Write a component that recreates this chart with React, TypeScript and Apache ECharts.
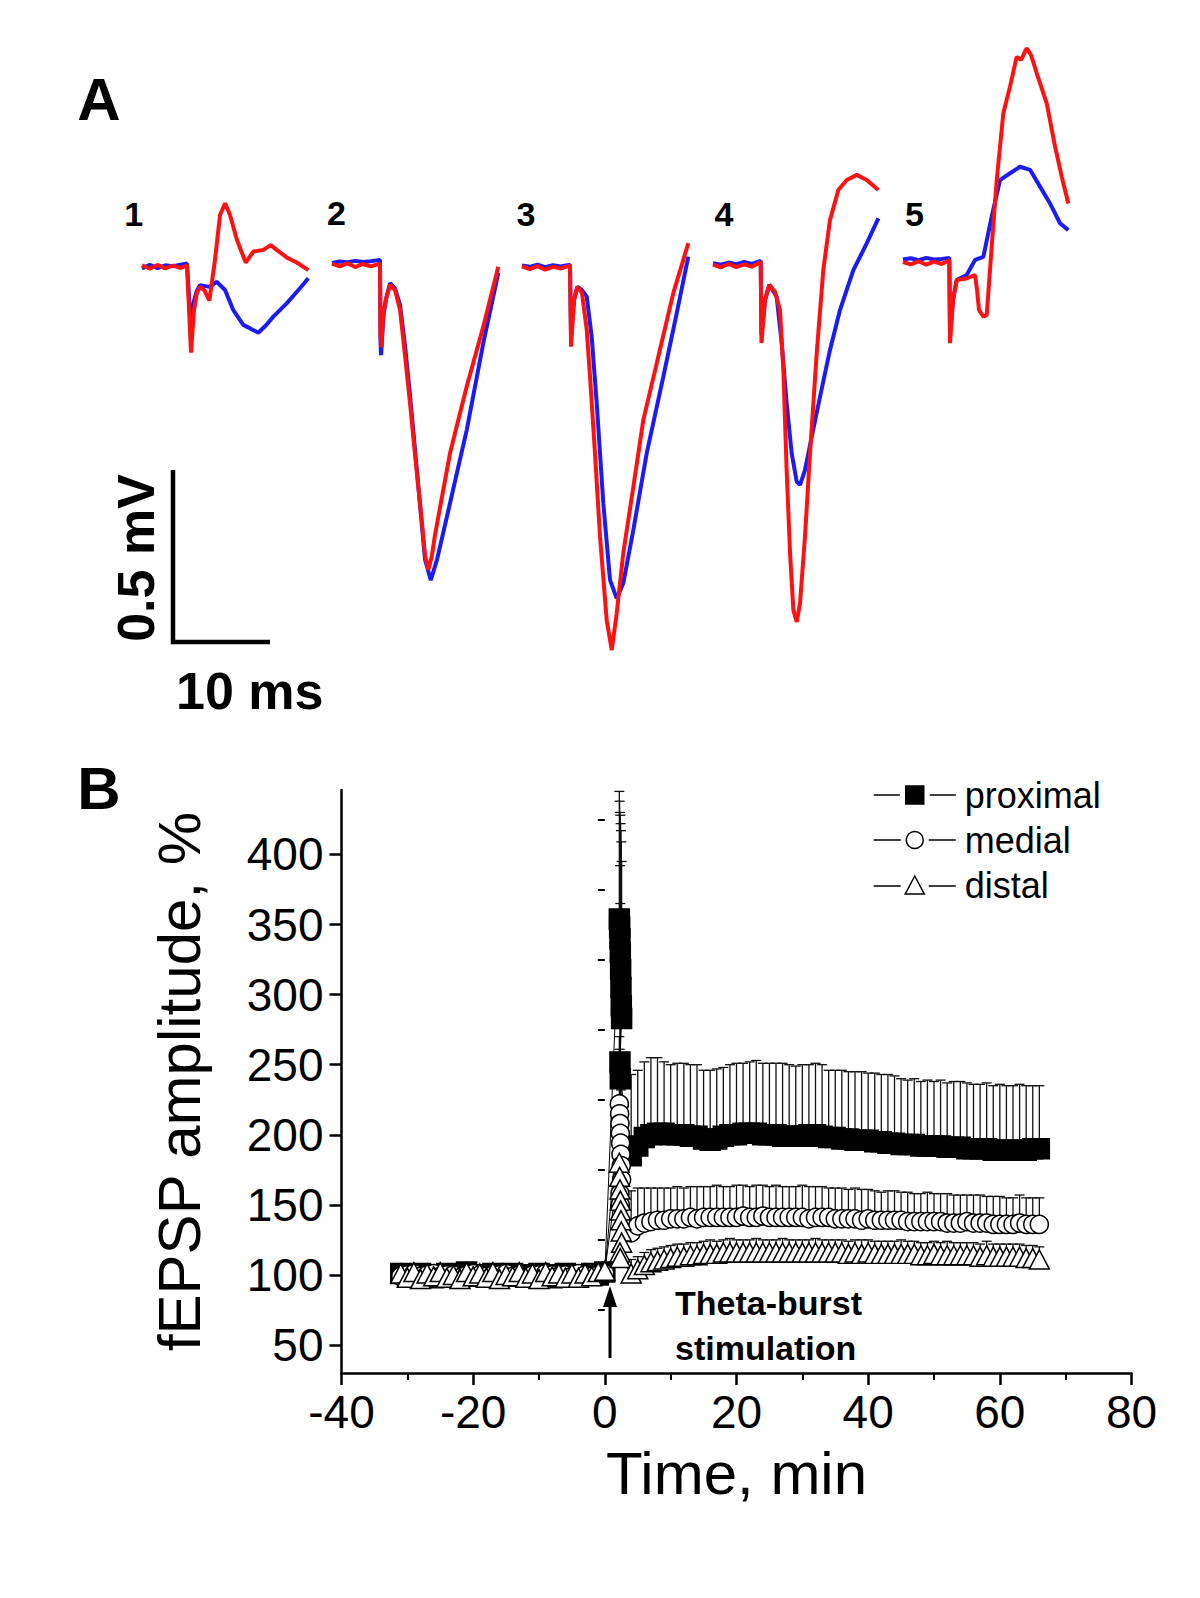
import React, { useEffect, useRef } from 'react';
import * as echarts from 'echarts';

const FONT = "'Liberation Sans', Arial, Helvetica, sans-serif";

// ---------- Panel A: field potential traces, [time (ms), amplitude (mV)] ----------
const trace1Blue = [[0, -0.004], [0.8, 0.006], [1.6, -0.003], [2.4, 0.005], [3.2, 0.002], [4.0, 0.007], [4.64, 0.01], [5.06, -0.18], [5.35, -0.1], [5.65, -0.07], [5.99, -0.053], [7.0, -0.058], [7.7, -0.043], [8.57, -0.067], [9.42, -0.126], [10.45, -0.169], [11.2, -0.18], [12.0, -0.192], [12.8, -0.17], [13.55, -0.145], [14.93, -0.106], [16.3, -0.062], [17.16, -0.033]];
const trace1Red = [[0, 0.005], [0.8, -0.005], [1.6, 0.006], [2.4, -0.004], [3.2, 0.004], [4.0, -0.003], [4.64, 0.005], [5.06, -0.25], [5.35, -0.13], [5.65, -0.077], [5.99, -0.058], [6.45, -0.068], [6.95, -0.098], [7.53, 0.02], [8.05, 0.152], [8.57, 0.186], [9.08, 0.152], [9.8, 0.079], [10.7, 0.013], [11.49, 0.045], [12.52, 0.05], [13.28, 0.064], [13.9, 0.05], [14.93, 0.028], [15.96, 0.013], [17.16, -0.009]];

const trace2Blue = [[0, 0.006], [0.8, 0.01], [1.6, 0.008], [2.4, 0.012], [3.2, 0.009], [4.0, 0.011], [4.95, 0.015], [5.0, -0.22], [5.06, -0.263], [5.3, -0.15], [5.57, -0.1], [5.99, -0.053], [6.5, -0.068], [7.02, -0.117], [7.53, -0.234], [8.05, -0.38], [8.57, -0.54], [9.08, -0.7], [9.6, -0.86], [10.19, -0.92], [10.84, -0.86], [12.18, -0.695], [13.9, -0.482], [15.61, -0.228], [17.16, -0.023]];
const trace2Red = [[0, 0.004], [0.8, -0.004], [1.6, 0.005], [2.4, -0.006], [3.2, 0.003], [4.0, -0.004], [4.95, 0.004], [5.0, -0.2], [5.1, -0.24], [5.3, -0.14], [5.57, -0.1], [5.99, -0.058], [6.5, -0.073], [7.02, -0.131], [7.53, -0.263], [8.05, -0.403], [8.57, -0.555], [9.08, -0.695], [9.6, -0.847], [9.94, -0.89], [10.3, -0.85], [10.63, -0.788], [12.18, -0.549], [13.9, -0.355], [15.61, -0.18], [17.16, -0.005]];

const trace3Blue = [[0, 0.006], [0.8, 0.002], [1.6, 0.008], [2.4, 0.001], [3.2, 0.007], [4.0, 0.003], [4.95, 0.008], [5.06, -0.2], [5.37, -0.095], [5.71, -0.056], [6.19, -0.066], [6.68, -0.085], [7.19, -0.202], [7.71, -0.396], [8.39, -0.688], [9.08, -0.912], [9.77, -0.966], [10.45, -0.922], [11.49, -0.766], [12.87, -0.542], [14.58, -0.319], [15.96, -0.134], [17.16, 0.032]];
const trace3Red = [[0, 0.003], [0.8, -0.005], [1.6, 0.004], [2.4, -0.006], [3.2, 0.002], [4.0, -0.003], [4.95, 0.006], [5.06, -0.231], [5.37, -0.095], [5.71, -0.056], [6.19, -0.075], [6.68, -0.182], [7.02, -0.319], [7.53, -0.542], [8.05, -0.786], [8.74, -1.03], [9.26, -1.117], [9.77, -1.01], [10.45, -0.834], [11.49, -0.64], [12.52, -0.445], [13.9, -0.28], [15.61, -0.075], [17.16, 0.071]];

const trace4Blue = [[0, 0.008], [0.8, 0.004], [1.6, 0.01], [2.4, 0.005], [3.2, 0.012], [4.0, 0.006], [4.92, 0.015], [5.0, -0.2], [5.37, -0.099], [5.81, -0.055], [6.57, -0.09], [7.09, -0.226], [7.6, -0.401], [8.12, -0.547], [8.64, -0.63], [8.98, -0.639], [9.49, -0.596], [10.19, -0.498], [11.04, -0.382], [12.07, -0.245], [13.11, -0.128], [14.48, -0.012], [15.86, 0.066], [17.06, 0.139]];
const trace4Red = [[0, 0.004], [0.8, -0.004], [1.6, 0.006], [2.4, -0.003], [3.2, 0.005], [4.0, -0.002], [4.92, 0.012], [5.0, -0.225], [5.37, -0.099], [5.81, -0.055], [6.4, -0.076], [6.91, -0.128], [7.26, -0.304], [7.6, -0.596], [7.95, -0.839], [8.29, -1.004], [8.64, -1.039], [8.98, -0.985], [9.49, -0.79], [10.01, -0.547], [10.7, -0.255], [11.38, -0.012], [12.07, 0.134], [12.93, 0.222], [13.8, 0.251], [14.83, 0.266], [15.86, 0.251], [17.06, 0.222]];

const trace5Blue = [[0, 0.01], [0.8, 0.014], [1.6, 0.008], [2.4, 0.015], [3.2, 0.01], [4.0, 0.012], [4.78, 0.015], [4.85, -0.21], [5.16, -0.108], [5.54, -0.05], [6.57, -0.035], [7.43, 0.009], [8.29, 0.018], [9.15, 0.135], [10.01, 0.242], [11.04, 0.262], [12.07, 0.281], [13.11, 0.272], [14.14, 0.223], [15.17, 0.174], [16.2, 0.116], [17.06, 0.096]];
const trace5Red = [[0, 0.003], [0.8, -0.004], [1.6, 0.005], [2.4, -0.005], [3.2, 0.004], [4.0, -0.003], [4.78, 0.008], [4.85, -0.234], [5.16, -0.108], [5.54, -0.05], [6.57, -0.045], [7.43, -0.035], [7.64, -0.079], [7.84, -0.137], [8.29, -0.157], [8.64, -0.152], [9.15, 0.048], [9.67, 0.242], [10.35, 0.437], [11.04, 0.515], [11.73, 0.602], [12.18, 0.593], [12.77, 0.627], [13.21, 0.607], [13.8, 0.554], [14.83, 0.466], [15.69, 0.34], [16.38, 0.252], [17.06, 0.174]];

const traceLabels = ['1', '2', '3', '4', '5'];
const traceBlue = [trace1Blue, trace2Blue, trace3Blue, trace4Blue, trace5Blue];
const traceRed = [trace1Red, trace2Red, trace3Red, trace4Red, trace5Red];

// ---------- Panel B: fEPSP amplitude (%) vs time (min) ----------
const baseTime = [-31, -30, -29, -28, -27, -26, -25, -24, -23, -22, -21, -20, -19, -18, -17, -16, -15, -14, -13, -12, -11, -10, -9, -8, -7, -6, -5, -4, -3, -2, -1, 0];
const spikeTime = [2.2, 2.25, 2.3, 2.35, 2.4, 2.45, 2.5, 2.55, 2.3, 2.35];
const postTime = [4, 5, 6, 7, 8, 9, 10, 11, 12, 13, 14, 15, 16, 17, 18, 19, 20, 21, 22, 23, 24, 25, 26, 27, 28, 29, 30, 31, 32, 33, 34, 35, 36, 37, 38, 39, 40, 41, 42, 43, 44, 45, 46, 47, 48, 49, 50, 51, 52, 53, 54, 55, 56, 57, 58, 59, 60, 61, 62, 63, 64, 65, 66];

const proxBase = [101, 100, 99, 101, 100, 98, 100, 101, 99, 100, 102, 100, 99, 100, 101, 100, 99, 101, 100, 100, 99, 101, 100, 98, 100, 101, 100, 99, 100, 101, 100, 102];
const proxSpike = [354, 348, 340, 330, 318, 305, 292, 283, 252, 240];
const proxSpikeErr = [91, 90, 90, 98, 104, 112, 117, 112, 140, 125];
const proxPost = [185, 192, 198, 200, 201, 201, 200, 200, 200, 199, 199, 197, 196, 197, 199, 200, 200, 201, 201, 201, 200, 200, 200, 199, 199, 199, 199, 200, 200, 199, 198, 198, 197, 197, 196, 196, 196, 195, 195, 194, 194, 193, 193, 193, 192, 192, 192, 192, 191, 191, 191, 190, 190, 190, 190, 189, 189, 189, 189, 189, 189, 190, 190];
const proxPostErr = [58, 54, 54, 55, 54, 51, 50, 51, 51, 51, 51, 49, 50, 50, 49, 50, 51, 50, 51, 52, 51, 51, 51, 52, 51, 50, 51, 50, 51, 51, 48, 48, 49, 48, 49, 49, 48, 49, 48, 49, 48, 47, 46, 47, 46, 47, 46, 47, 46, 47, 47, 47, 46, 46, 47, 46, 47, 46, 46, 47, 46, 45, 45];

const medBase = [99, 100, 101, 99, 100, 101, 99, 100, 100, 98, 100, 101, 100, 99, 100, 100, 101, 99, 100, 98, 100, 100, 101, 100, 99, 100, 99, 101, 100, 99, 100, 101];
const medSpike = [222, 215, 208, 201, 194, 186, 178, 168, 158, 150];
const medSpikeErr = [48, 46, 47, 50, 48, 46, 42, 38, 34, 30];
const medPost = [130, 135, 137, 138, 139, 139, 140, 140, 140, 141, 140, 141, 141, 141, 141, 141, 141, 142, 141, 141, 142, 141, 141, 141, 141, 141, 141, 140, 141, 141, 141, 140, 140, 140, 140, 139, 140, 139, 139, 139, 139, 139, 138, 138, 138, 138, 138, 138, 137, 137, 137, 138, 137, 137, 137, 136, 136, 136, 136, 137, 136, 136, 136];
const medPostErr = [30, 27, 25, 24, 23, 23, 22, 23, 22, 22, 23, 22, 22, 23, 22, 22, 23, 22, 22, 23, 22, 22, 23, 22, 22, 22, 23, 23, 22, 22, 21, 22, 22, 21, 22, 22, 21, 21, 20, 21, 21, 20, 21, 20, 20, 21, 20, 20, 21, 20, 20, 19, 20, 20, 19, 20, 20, 19, 19, 20, 19, 19, 19];

const distBase = [101, 98, 102, 97, 101, 99, 102, 98, 100, 97, 102, 99, 101, 98, 102, 97, 100, 99, 102, 98, 101, 97, 102, 99, 101, 98, 101, 98, 101, 99, 102, 103];
const distSpike = [180, 170, 161, 153, 146, 139, 131, 123, 116, 112];
const distSpikeErr = [22, 20, 19, 18, 17, 16, 15, 14, 12, 10];
const distPost = [101, 104, 107, 109, 110, 111, 112, 113, 113, 114, 114, 115, 115, 115, 116, 116, 116, 116, 116, 116, 116, 116, 116, 116, 116, 116, 116, 116, 116, 116, 116, 116, 116, 115, 116, 115, 116, 115, 115, 115, 115, 115, 115, 115, 114, 114, 115, 114, 114, 114, 114, 114, 114, 113, 114, 113, 113, 113, 113, 113, 112, 112, 111];
const distPostErr = [10, 9, 9, 9, 9, 9, 9, 9, 9, 9, 9, 9, 10, 9, 9, 10, 9, 9, 9, 10, 9, 9, 9, 10, 9, 9, 9, 9, 10, 9, 9, 9, 9, 9, 9, 10, 9, 9, 9, 9, 9, 10, 9, 9, 9, 9, 9, 9, 10, 9, 9, 9, 9, 9, 10, 9, 9, 9, 9, 9, 9, 9, 9];

const yTickValues = [50, 100, 150, 200, 250, 300, 350, 400];
const yMinorTickValues = [75, 125, 175, 225, 275, 325, 375, 425];
const seriesNames = ['proximal', 'medial', 'distal'];

// legend icons: "—■—", "—○—", "—△—"
const legendIcons = [
  'path://M0,11L26,11M56,11L82,11M32,2L50,2L50,20L32,20Z',
  'path://M0,11L27,11M55,11L82,11M49.5,11A8.5,8.5,0,1,1,32.5,11A8.5,8.5,0,1,1,49.5,11Z',
  'path://M0,12L27,12M55,12L82,12M41,2L50.5,20L31.5,20Z',
];

// layout (pixels)
const traceGrids = [
  { left: 142, top: 27.25 },
  { left: 332, top: 25.25 },
  { left: 522, top: 27.75 },
  { left: 713, top: 26.25 },
  { left: 903, top: 23.25 },
];
const traceLabelPos = [[133.6, 214], [336.4, 213], [526, 214], [724, 214], [914.5, 214]];

function zip(ts: number[], vs: number[]) {
  return ts.map((t, i) => [t, vs[i]]);
}
function zip3(ts: number[], vs: number[], es: number[]) {
  return ts.map((t, i) => [t, vs[i], es[i]]);
}

export default function App() {
  const ref = useRef<HTMLDivElement>(null);
  useEffect(() => {
    const chart = echarts.init(ref.current!, null, { renderer: 'svg' });

    const grids: any[] = traceGrids.map((g) => ({ left: g.left, top: g.top, width: 166.7, height: 650.75, containLabel: false }));
    grids.push({ left: 341.5, top: 790, width: 790, height: 583, containLabel: false });

    const xAxes: any[] = traceGrids.map((_, i) => ({ gridIndex: i, type: 'value', min: 0, max: 17.2, show: false }));
    const yAxes: any[] = traceGrids.map((_, i) => ({ gridIndex: i, type: 'value', min: -1.2, max: 0.7, show: false }));

    xAxes.push({
      gridIndex: 5, type: 'value', min: -40, max: 80, interval: 20,
      axisLine: { show: true, onZero: false, lineStyle: { color: '#000', width: 2.5 } },
      axisTick: { show: true, inside: false, length: 12, lineStyle: { color: '#000', width: 2.5 } },
      minorTick: { show: true, splitNumber: 2, length: 7, lineStyle: { color: '#000', width: 2 } },
      axisLabel: { fontSize: 46, color: '#000', fontFamily: FONT, margin: 16 },
      splitLine: { show: false }, minorSplitLine: { show: false },
      name: 'Time, min', nameLocation: 'middle', nameGap: 70,
      nameTextStyle: { fontSize: 60, color: '#000', fontFamily: FONT },
    });
    yAxes.push({
      gridIndex: 5, type: 'value', min: 30, max: 446,
      axisLine: { show: true, onZero: false, lineStyle: { color: '#000', width: 2.5 } },
      axisTick: { show: true, inside: false, length: 12, lineStyle: { color: '#000', width: 2.5 }, customValues: yTickValues },
      axisLabel: { fontSize: 46, color: '#000', fontFamily: FONT, margin: 18, customValues: yTickValues },
      splitLine: { show: false },
      name: 'fEPSP amplitude, %', nameLocation: 'middle', nameGap: 132,
      nameTextStyle: { fontSize: 60, color: '#000', fontFamily: FONT },
    });
    yAxes.push({
      gridIndex: 5, type: 'value', min: 30, max: 446, position: 'left',
      axisLine: { show: false },
      axisTick: { show: true, inside: false, length: 7, lineStyle: { color: '#000', width: 2 }, customValues: yMinorTickValues },
      axisLabel: { show: false },
      splitLine: { show: false },
    });

    const series: any[] = [];
    traceGrids.forEach((_, i) => {
      series.push({
        type: 'line', xAxisIndex: i, yAxisIndex: i, data: traceBlue[i], showSymbol: false, silent: true,
        lineStyle: { color: '#1c1cf0', width: 4 }, itemStyle: { color: '#1c1cf0' },
      });
      series.push({
        type: 'line', xAxisIndex: i, yAxisIndex: i, data: traceRed[i], showSymbol: false, silent: true,
        lineStyle: { color: '#fc1212', width: 4 }, itemStyle: { color: '#fc1212' },
      });
    });

    const errRender = (params: any, api: any) => {
      const x = api.value(0);
      const m = api.value(1);
      const e = api.value(2);
      const p0 = api.coord([x, m]);
      const p1 = api.coord([x, m + e]);
      const st = { stroke: '#111', lineWidth: 1.3 };
      return {
        type: 'group',
        children: [
          { type: 'line', shape: { x1: p0[0], y1: p0[1], x2: p1[0], y2: p1[1] }, style: st },
          { type: 'line', shape: { x1: p1[0] - 5, y1: p1[1], x2: p1[0] + 5, y2: p1[1] }, style: st },
        ],
      };
    };

    const groups = [
      { name: seriesNames[0], base: proxBase, spike: proxSpike, spikeErr: proxSpikeErr, post: proxPost, postErr: proxPostErr, symbol: 'rect', size: 20, fill: '#000' },
      { name: seriesNames[1], base: medBase, spike: medSpike, spikeErr: medSpikeErr, post: medPost, postErr: medPostErr, symbol: 'circle', size: 18, fill: '#fff' },
      { name: seriesNames[2], base: distBase, spike: distSpike, spikeErr: distSpikeErr, post: distPost, postErr: distPostErr, symbol: 'triangle', size: [20, 19], fill: '#fff' },
    ];
    groups.forEach((g) => {
      series.push({
        type: 'custom', name: g.name + ' err', xAxisIndex: 5, yAxisIndex: 5, silent: true,
        renderItem: errRender, encode: { x: 0, y: 1 },
        data: zip3([...spikeTime, ...postTime], [...g.spike, ...g.post], [...g.spikeErr, ...g.postErr]),
      });
      series.push({
        type: 'line', name: g.name, xAxisIndex: 5, yAxisIndex: 5, silent: true,
        data: zip([...baseTime, ...spikeTime, ...postTime], [...g.base, ...g.spike, ...g.post]),
        symbol: g.symbol, symbolSize: g.size, showSymbol: true, showAllSymbol: true,
        lineStyle: { color: '#000', width: 1 },
        itemStyle: { color: g.fill, borderColor: '#000', borderWidth: 1.5 },
      });
    });

    const textStyle = (size: number, bold: boolean) => ({ fontSize: size, fontWeight: bold ? 'bold' : 'normal', fontFamily: FONT, fill: '#000', align: 'center', verticalAlign: 'middle' });

    const graphics: any[] = [
      { type: 'text', x: 99, y: 99, style: { text: 'A', ...textStyle(60, true) } },
      { type: 'text', x: 99, y: 788, style: { text: 'B', ...textStyle(60, true) } },
      ...traceLabels.map((t, i) => ({ type: 'text', x: traceLabelPos[i][0], y: traceLabelPos[i][1], style: { text: t, ...textStyle(34, true) } })),
      { type: 'line', shape: { x1: 173, y1: 470, x2: 173, y2: 644 }, style: { stroke: '#000', lineWidth: 4.5 } },
      { type: 'line', shape: { x1: 171, y1: 642, x2: 270, y2: 642 }, style: { stroke: '#000', lineWidth: 4.5 } },
      { type: 'text', x: 135.5, y: 558, rotation: Math.PI / 2, style: { text: '0.5 mV', ...textStyle(52, true) } },
      { type: 'text', x: 249.8, y: 691, style: { text: '10 ms', ...textStyle(52, true) } },
      { type: 'line', shape: { x1: 610, y1: 1358, x2: 610, y2: 1300 }, style: { stroke: '#000', lineWidth: 3 } },
      { type: 'polygon', shape: { points: [[603, 1307], [617, 1307], [610, 1286]] }, style: { fill: '#000' } },
      { type: 'text', x: 675, y: 1303, style: { text: 'Theta-burst', ...textStyle(34, true), align: 'left' } },
      { type: 'text', x: 675, y: 1348, style: { text: 'stimulation', ...textStyle(34, true), align: 'left' } },
    ];

    chart.setOption({
      animation: false,
      backgroundColor: '#fff',
      grid: grids,
      xAxis: xAxes,
      yAxis: yAxes,
      legend: {
        data: seriesNames.map((n, i) => ({
          name: n,
          icon: legendIcons[i],
          itemStyle: { color: groups[i].fill, borderColor: '#000', borderWidth: 1.5 },
        })),
        orient: 'vertical', left: 868, top: 772,
        itemWidth: 82, itemHeight: 21, itemGap: 9,
        textStyle: { fontSize: 36, color: '#000', fontFamily: FONT, padding: [0, 0, 0, 4] },
        selectedMode: false,
      },
      series,
      graphic: graphics,
    });
    return () => chart.dispose();
  }, []);
  return <div ref={ref} style={{ position: 'absolute', left: 0, top: 0, width: 1200, height: 1598, background: '#fff' }} />;
}
